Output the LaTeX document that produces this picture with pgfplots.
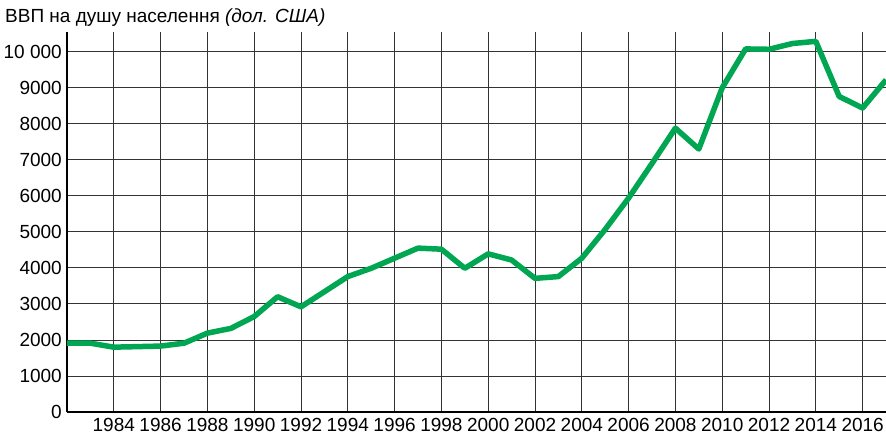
\documentclass[border=0pt]{standalone}
\usepackage{fontspec}
\setmainfont{Liberation Sans}
\usepackage{pgfplots}
\pgfplotsset{compat=1.18}
\definecolor{gdpgreen}{RGB}{0,166,81}
\begin{document}
\begin{tikzpicture}
\useasboundingbox (-67pt,-24pt) rectangle (819pt,412pt);
\begin{axis}[
  scale only axis,
  width=819pt, height=380pt,
  xmin=1982, xmax=2017,
  ymin=0, ymax=10550,
  scaled y ticks=false,
  scaled x ticks=false,
  axis x line*=bottom,
  axis y line*=left,
  axis line style={black, line width=1.1pt, -},
  xtick={1984,1986,...,2016},
  xticklabels={1984,1986,1988,1990,1992,1994,1996,1998,2000,2002,2004,2006,2008,2010,2012,2014,2016},
  ytick={0,1000,...,10000},
  yticklabels={0,1000,2000,3000,4000,5000,6000,7000,8000,9000,{10\ 000}},
  major tick length=0pt,
  xmajorgrids, ymajorgrids,
  major grid style={black!80, line width=0.9pt},
  tick label style={font=\fontsize{19}{21}\selectfont, inner sep=0pt},
  xticklabel style={anchor=north, yshift=-6pt},
  yticklabel style={anchor=east, xshift=-5pt},
  /pgf/number format/assume math mode=true,
  clip=true,
]
\addplot[gdpgreen, line width=5.5pt, line join=round] coordinates {
(1982,1910) (1983,1910) (1984,1800) (1985,1815) (1986,1830) (1987,1910)
(1988,2190) (1989,2320) (1990,2650) (1991,3200) (1992,2920) (1993,3340)
(1994,3760) (1995,3990) (1996,4270) (1997,4550) (1998,4520) (1999,3990)
(2000,4390) (2001,4220) (2002,3710) (2003,3760) (2004,4270) (2005,5070)
(2006,5940) (2007,6900) (2008,7880) (2009,7300) (2010,9000) (2011,10080)
(2012,10070) (2013,10230) (2014,10290) (2015,8760) (2016,8440) (2017,9220)
};
\end{axis}
\node[anchor=base west, inner sep=0pt, font=\fontsize{19}{21}\selectfont] at (-62pt,389pt) {ВВП на душу населення \textit{(дол. США)}};
\end{tikzpicture}
\end{document}
